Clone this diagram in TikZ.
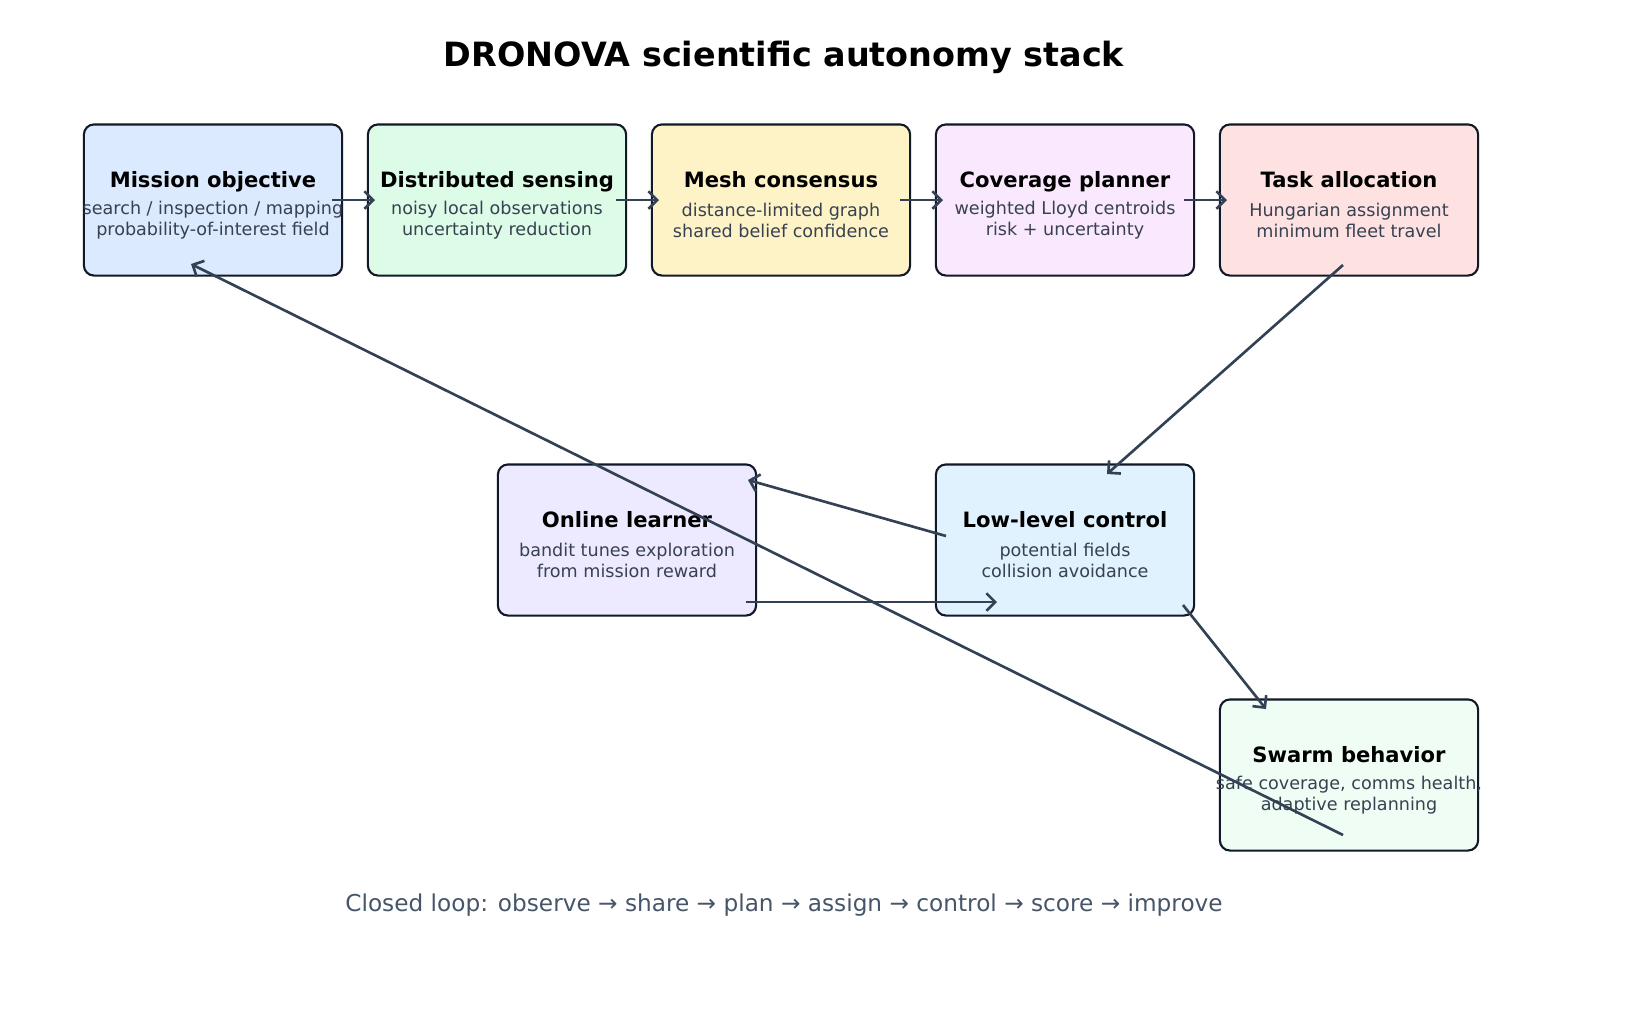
\documentclass[tikz,border=0pt]{standalone}
\usepackage{fontspec}
\setmainfont{DejaVu Sans}
\usetikzlibrary{arrows.meta,positioning,calc}
\definecolor{edgedark}{HTML}{111827}
\definecolor{arrowgray}{HTML}{334155}
\definecolor{subgray}{HTML}{374151}
\definecolor{footgray}{HTML}{475569}
\definecolor{cmission}{HTML}{DBEAFE}
\definecolor{csensing}{HTML}{DCFCE7}
\definecolor{cmesh}{HTML}{FEF3C7}
\definecolor{ccover}{HTML}{FAE8FF}
\definecolor{ctask}{HTML}{FEE2E2}
\definecolor{clearner}{HTML}{EDE9FE}
\definecolor{ccontrol}{HTML}{E0F2FE}
\definecolor{cswarm}{HTML}{F0FDF4}
\newcommand{\stage}[7]{%
  \node[box,fill=#4] (#1) at (#2,#3) {};
  \node[boxtitle] at ($(#1.center)+(0,-24)$) {#5};
  \node[boxtext] at ($(#1.center)+(0,20.5)$) {#6\\#7};
}
\begin{document}
\begin{tikzpicture}[x=0.01cm,y=-0.01cm,
  box/.style={draw=edgedark,line width=0.6pt,rounded corners=0.1cm,minimum width=2.58cm,minimum height=1.51cm,inner sep=0pt},
  boxtitle/.style={font=\fontsize{6}{7}\selectfont\bfseries,text height=1.6ex,text depth=0.45ex},
  boxtext/.style={font=\fontsize{5}{6}\selectfont,text=subgray,align=center},
  flow/.style={draw=arrowgray,line width=0.75pt,-{Straight Barb[length=2.5pt,width=5pt]}}]
  \useasboundingbox (0,0) rectangle (1644,1017);
  \node[font=\fontsize{9.5}{11}\selectfont\bfseries] (title) at (784,57) {DRONOVA scientific autonomy stack};
  % top row
  \stage{mission}{213}{200}{cmission}{Mission objective}{search / inspection / mapping}{probability-of-interest field}
  \stage{sensing}{497}{200}{csensing}{Distributed sensing}{noisy local observations}{uncertainty reduction}
  \stage{mesh}{781}{200}{cmesh}{Mesh consensus}{distance-limited graph}{shared belief confidence}
  \stage{cover}{1065}{200}{ccover}{Coverage planner}{weighted Lloyd centroids}{risk + uncertainty}
  \stage{task}{1349}{200}{ctask}{Task allocation}{Hungarian assignment}{minimum fleet travel}
  % lower part
  \stage{learner}{627}{540}{clearner}{Online learner}{bandit tunes exploration}{from mission reward}
  \stage{control}{1065}{540}{ccontrol}{Low-level control}{potential fields}{collision avoidance}
  \stage{swarm}{1349}{775}{cswarm}{Swarm behavior}{safe coverage, comms health,}{adaptive replanning}
  \node[font=\fontsize{6.6}{8}\selectfont,text=footgray] (loop) at (784,905) {Closed loop: observe → share → plan → assign → control → score → improve};
  % connector ends
  \coordinate (taskout) at ($(task.center)+(-6,65)$);
  \coordinate (ctrlin) at ($(control.center)+(42,-66)$);
  \coordinate (ctrlout) at ($(control.center)+(-119,-4)$);
  \coordinate (learnin) at ($(learner.center)+(121,-60)$);
  \coordinate (learnout) at ($(learner.center)+(119,62)$);
  \coordinate (ctrlin2) at ($(control.center)+(-68,62)$);
  \coordinate (ctrlout2) at ($(control.center)+(118,65)$);
  \coordinate (swarmin) at ($(swarm.center)+(-83,-66)$);
  \coordinate (swarmout) at ($(swarm.center)+(-6,60)$);
  \coordinate (missionin) at ($(mission.center)+(-22,64)$);
  \draw[flow] ($(mission.center)+(119,0)$) -- ($(sensing.center)+(-122,0)$);
  \draw[flow] ($(sensing.center)+(119,0)$) -- ($(mesh.center)+(-122,0)$);
  \draw[flow] ($(mesh.center)+(119,0)$) -- ($(cover.center)+(-122,0)$);
  \draw[flow] ($(cover.center)+(119,0)$) -- ($(task.center)+(-122,0)$);
  \draw[flow] (taskout) -- (ctrlin);
  \draw[flow] (ctrlout) -- (learnin);
  \draw[flow] (learnout) -- (ctrlin2);
  \draw[flow] (ctrlout2) -- (swarmin);
  \draw[flow] (swarmout) -- (missionin);
\end{tikzpicture}
\end{document}
